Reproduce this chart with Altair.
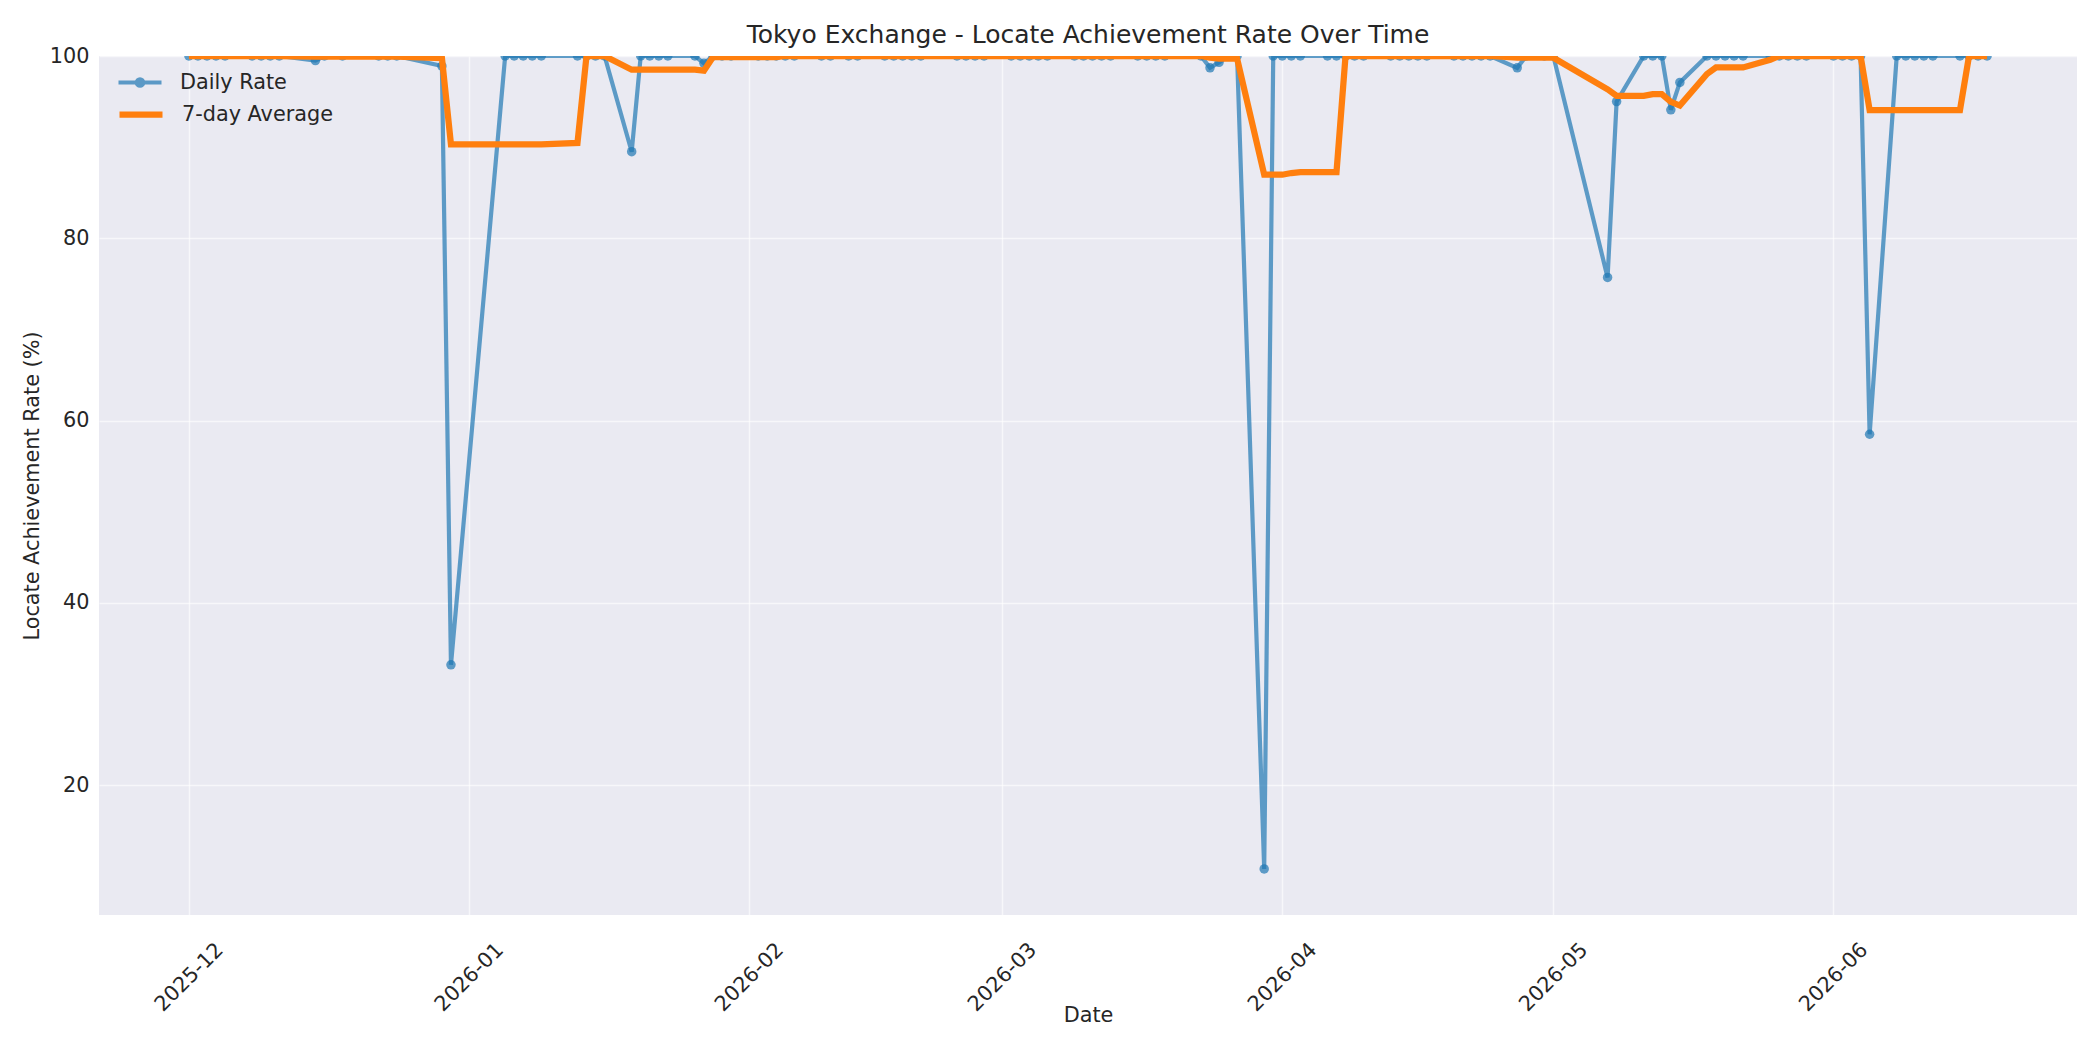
import altair as alt
import pandas as pd

# ---------------- data ----------------
dates_dec = ["2025-12-01", "2025-12-02", "2025-12-03", "2025-12-04", "2025-12-05",
             "2025-12-08", "2025-12-09", "2025-12-10", "2025-12-11",
             "2025-12-15", "2025-12-16", "2025-12-18",
             "2025-12-22", "2025-12-23", "2025-12-24",
             "2025-12-29", "2025-12-30"]
rates_dec = [100, 100, 100, 100, 100,
             100, 100, 100, 100,
             99.5, 100, 100,
             100, 100, 100,
             98.9, 33.2]

dates_jan = ["2026-01-05", "2026-01-06", "2026-01-07", "2026-01-08", "2026-01-09",
             "2026-01-13", "2026-01-14", "2026-01-15", "2026-01-16",
             "2026-01-19", "2026-01-20", "2026-01-21", "2026-01-22", "2026-01-23",
             "2026-01-26", "2026-01-27", "2026-01-28", "2026-01-29", "2026-01-30"]
rates_jan = [100, 100, 100, 100, 100,
             100, 100, 100, 100,
             89.5, 100, 100, 100, 100,
             100, 99.2, 100, 100, 100]

dates_feb = ["2026-02-02", "2026-02-03", "2026-02-04", "2026-02-05", "2026-02-06",
             "2026-02-09", "2026-02-10", "2026-02-12", "2026-02-13",
             "2026-02-16", "2026-02-17", "2026-02-18", "2026-02-19", "2026-02-20",
             "2026-02-24", "2026-02-25", "2026-02-26", "2026-02-27"]
rates_feb = [100, 100, 100, 100, 100,
             100, 100, 100, 100,
             100, 100, 100, 100, 100,
             100, 100, 100, 100]

dates_mar = ["2026-03-02", "2026-03-03", "2026-03-04", "2026-03-05", "2026-03-06",
             "2026-03-09", "2026-03-10", "2026-03-11", "2026-03-12", "2026-03-13",
             "2026-03-16", "2026-03-17", "2026-03-18", "2026-03-19",
             "2026-03-23", "2026-03-24", "2026-03-25", "2026-03-26", "2026-03-27",
             "2026-03-30", "2026-03-31"]
rates_mar = [100, 100, 100, 100, 100,
             100, 100, 100, 100, 100,
             100, 100, 100, 100,
             100, 98.7, 99.3, 100, 100,
             10.8, 100]

dates_apr = ["2026-04-01", "2026-04-02", "2026-04-03",
             "2026-04-06", "2026-04-07", "2026-04-08", "2026-04-09", "2026-04-10",
             "2026-04-13", "2026-04-14", "2026-04-15", "2026-04-16", "2026-04-17",
             "2026-04-20", "2026-04-21", "2026-04-22", "2026-04-23", "2026-04-24",
             "2026-04-27", "2026-04-28", "2026-04-30"]
rates_apr = [100, 100, 100,
             100, 100, 100, 100, 100,
             100, 100, 100, 100, 100,
             100, 100, 100, 100, 100,
             98.7, 100, 100]

dates_may = ["2026-05-01",
             "2026-05-07", "2026-05-08",
             "2026-05-11", "2026-05-12", "2026-05-13", "2026-05-14", "2026-05-15",
             "2026-05-18", "2026-05-19", "2026-05-20", "2026-05-21", "2026-05-22",
             "2026-05-25", "2026-05-26", "2026-05-27", "2026-05-28", "2026-05-29"]
rates_may = [100,
             75.7, 95.0,
             100, 100, 100, 94.1, 97.1,
             100, 100, 100, 100, 100,
             100, 100, 100, 100, 100]

dates_jun = ["2026-06-01", "2026-06-02", "2026-06-03", "2026-06-04", "2026-06-05",
             "2026-06-08", "2026-06-09", "2026-06-10", "2026-06-11", "2026-06-12",
             "2026-06-15", "2026-06-16", "2026-06-17", "2026-06-18"]
rates_jun = [100, 100, 100, 100, 58.5,
             100, 100, 100, 100, 100,
             100, 100, 100, 100]

series_names = ["Daily Rate", "7-day Average"]
series_colors = ["#1f77b4", "#ff7f0e"]
y_ticks = [20, 40, 60, 80, 100]
x_tick_months = [(2025, 12), (2026, 1), (2026, 2), (2026, 3), (2026, 4), (2026, 5), (2026, 6)]

title_text = "Tokyo Exchange - Locate Achievement Rate Over Time"
x_title = "Date"
y_title = "Locate Achievement Rate (%)"

# ---------------- table ----------------
all_dates = dates_dec + dates_jan + dates_feb + dates_mar + dates_apr + dates_may + dates_jun
all_rates = rates_dec + rates_jan + rates_feb + rates_mar + rates_apr + rates_may + rates_jun
df = pd.DataFrame({"date": [d + "T00:00:00" for d in all_dates], "rate": all_rates})

TEXT = "#262626"
FS = 20.8

x_scale = alt.Scale(domain=[alt.DateTime(year=2025, month=11, date=21, hours=1, minutes=12),
                            alt.DateTime(year=2026, month=6, date=27, hours=22, minutes=48)])
y_scale = alt.Scale(domain=[5.75, 100], nice=False, zero=False)

x_axis = alt.Axis(values=[alt.DateTime(year=y, month=m, date=1) for (y, m) in x_tick_months],
                  format="%Y-%m", labelAngle=315, labelAlign="center", labelBaseline="middle",
                  labelPadding=62, labelFlush=False, labelOverlap=False, labelBound=False,
                  title=x_title, titleY=100, titleBaseline="middle")
y_axis = alt.Axis(values=y_ticks, labelPadding=10, title=y_title, titleX=-67,
                  titleBaseline="middle")

X = alt.X("date:T", scale=x_scale, axis=x_axis)

dot_path = "M-2.15,0H2.15M-0.32,0A0.32,0.32,0,1,1,0.32,0A0.32,0.32,0,1,1,-0.32,0Z"
line_path = "M-2.15,0H2.15"

legend_daily = alt.Legend(
    title=None, orient="none", legendX=28.5, legendY=14, padding=0,
    labelFontSize=FS, labelColor=TEXT, labelOffset=27.5,
    symbolSize=400, symbolType=dot_path, symbolStrokeWidth=4.2,
    symbolStrokeColor=series_colors[0], symbolFillColor=series_colors[0], symbolOpacity=0.7,
)
legend_avg = alt.Legend(
    title=None, orient="none", legendX=28.5, legendY=45, padding=0,
    labelFontSize=FS, labelColor=TEXT, labelOffset=27.5,
    symbolSize=400, symbolType=line_path, symbolStrokeWidth=6.25,
    symbolStrokeColor=series_colors[1], symbolFillColor="transparent", symbolOpacity=1,
)
color_daily = alt.Color("series:N", scale=alt.Scale(domain=[series_names[0]], range=[series_colors[0]]),
                        legend=legend_daily)
color_avg = alt.Color("series:N", scale=alt.Scale(domain=[series_names[1]], range=[series_colors[1]]),
                      legend=legend_avg)

base = alt.Chart(df)

daily = base.transform_calculate(series="'Daily Rate'")
daily_line = daily.mark_line(strokeWidth=4.2, opacity=0.7, clip=True).encode(
    x=X, y=alt.Y("rate:Q", scale=y_scale, axis=y_axis), color=color_daily)
daily_pts = daily.mark_circle(size=90, opacity=0.7, clip=True).encode(
    x=X, y=alt.Y("rate:Q", scale=y_scale, axis=y_axis), color=color_daily)

avg = base.transform_window(
    avg="mean(rate)", frame=[-6, 0], sort=[alt.SortField("date")]
).transform_calculate(series="'7-day Average'").mark_line(strokeWidth=6.25, clip=True).encode(
    x=X, y=alt.Y("avg:Q", scale=y_scale, axis=y_axis), color=color_avg)

chart = alt.layer(alt.layer(daily_line, daily_pts), avg).resolve_scale(
    color="independent"
).properties(
    width=1978, height=859,
    autosize=alt.AutoSizeParams(type="none"),
    padding={"left": 91, "top": 48, "right": 15, "bottom": 127},
    title=alt.Title(title_text, fontSize=25, fontWeight="normal", color=TEXT,
                    anchor="middle", baseline="alphabetic", offset=12, dy=35),
).configure(
    font="DejaVu Sans",
    background="white",
).configure_view(
    fill="#EAEAF2", stroke=None,
).configure_axis(
    domain=False, ticks=False, tickSize=0,
    grid=True, gridColor="white", gridWidth=1.5, gridOpacity=0.6,
    labelFont="DejaVu Sans", labelFontSize=FS, labelColor=TEXT,
    titleFont="DejaVu Sans", titleFontSize=FS, titleColor=TEXT, titleFontWeight="normal",
)

chart.save("out.html", embed_options={"renderer": "svg", "actions": False})
